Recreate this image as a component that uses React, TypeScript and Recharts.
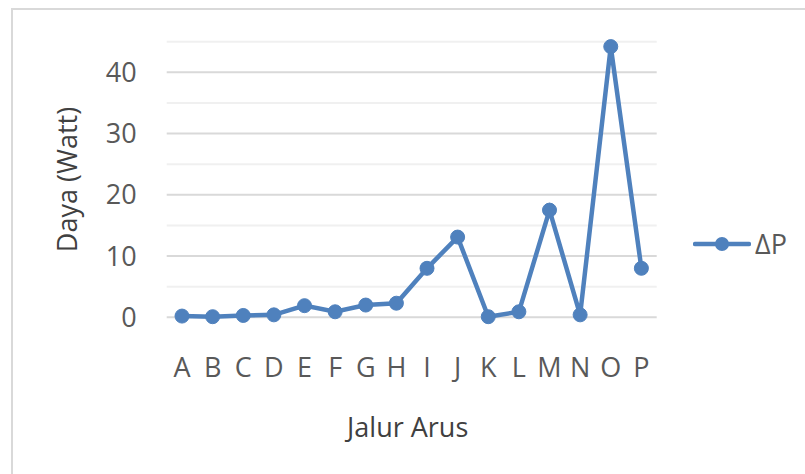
import { LineChart, Line, XAxis, YAxis, CartesianGrid } from 'recharts';

const categories = ['A', 'B', 'C', 'D', 'E', 'F', 'G', 'H', 'I', 'J', 'K', 'L', 'M', 'N', 'O', 'P'];
const deltaP = [0.2, 0.1, 0.3, 0.4, 1.9, 0.9, 2.0, 2.3, 8.0, 13.1, 0.1, 0.9, 17.5, 0.4, 44.2, 8.0];
const yTicks = [0, 10, 20, 30, 40];
const minorLines = [5, 15, 25, 35, 45];

const data = categories.map((c, i) => ({ name: c, dp: deltaP[i] }));

const BLUE = '#4f81bd';
const FONT = '"Open Sans", sans-serif';

const LegendBox = () => (
    <div style={{ position: 'absolute', left: 693, top: 230, display: 'flex', alignItems: 'center', fontFamily: FONT, fontSize: 27, color: '#595959' }}>
        <svg width={58} height={20}>
            <line x1={2} y1={10} x2={56} y2={10} stroke={BLUE} strokeWidth={4.5} strokeLinecap="round" />
            <circle cx={29} cy={10} r={7} fill={BLUE} />
        </svg>
        <span style={{ marginLeft: 4, lineHeight: '28px' }}>ΔP</span>
    </div>
);

export default function App() {
    return (
        <div style={{ position: 'absolute', left: 0, top: 0, width: 805, height: 474, overflow: 'hidden', background: '#fff' }}>
            <div style={{ position: 'absolute', left: 11, top: 8, width: 830, height: 490, border: '2px solid #d9d9d9' }} />
            <div style={{ position: 'absolute', left: 0, top: 0 }}>
                <LineChart width={805} height={474} data={data} margin={{ top: 41.7, right: 148.3, bottom: 0, left: 12 }}>
                    <CartesianGrid vertical={false} horizontalValues={minorLines} stroke="#f0f0f0" strokeWidth={2} />
                    <CartesianGrid vertical={false} horizontalValues={yTicks} stroke="#d9d9d9" strokeWidth={2} />
                    <XAxis
                        dataKey="name"
                        scale="band"
                        axisLine={false}
                        tickLine={false}
                        tickSize={0}
                        tickMargin={41}
                        height={156.7}
                        tick={{ fill: '#595959', fontSize: 27, fontFamily: FONT }}
                        interval={0}
                        label={({ viewBox }: any) => (
                            <text
                                x={viewBox.x + viewBox.width / 2 - 4}
                                y={viewBox.y + 120}
                                textAnchor="middle"
                                fill="#404040"
                                fontSize={27}
                                fontFamily={FONT}
                            >
                                Jalur Arus
                            </text>
                        )}
                    />
                    <YAxis
                        domain={[0, 45]}
                        ticks={yTicks}
                        axisLine={false}
                        tickLine={false}
                        tickSize={0}
                        tickMargin={30}
                        width={154.7}
                        tick={{ fill: '#595959', fontSize: 27, fontFamily: FONT }}
                        label={({ viewBox }: any) => {
                            const cx = 66;
                            const cy = viewBox.y + viewBox.height / 2;
                            return (
                                <text
                                    x={cx}
                                    y={cy}
                                    transform={`rotate(-90, ${cx}, ${cy})`}
                                    textAnchor="middle"
                                    dominantBaseline="central"
                                    fill="#404040"
                                    fontSize={27}
                                    fontFamily={FONT}
                                >
                                    Daya (Watt)
                                </text>
                            );
                        }}
                    />
                    <Line
                        type="linear"
                        dataKey="dp"
                        name="ΔP"
                        stroke={BLUE}
                        strokeWidth={4.5}
                        dot={{ r: 7, fill: BLUE, stroke: BLUE, strokeWidth: 1 }}
                        activeDot={false}
                        isAnimationActive={false}
                    />
                </LineChart>
            </div>
            <LegendBox />
        </div>
    );
}
